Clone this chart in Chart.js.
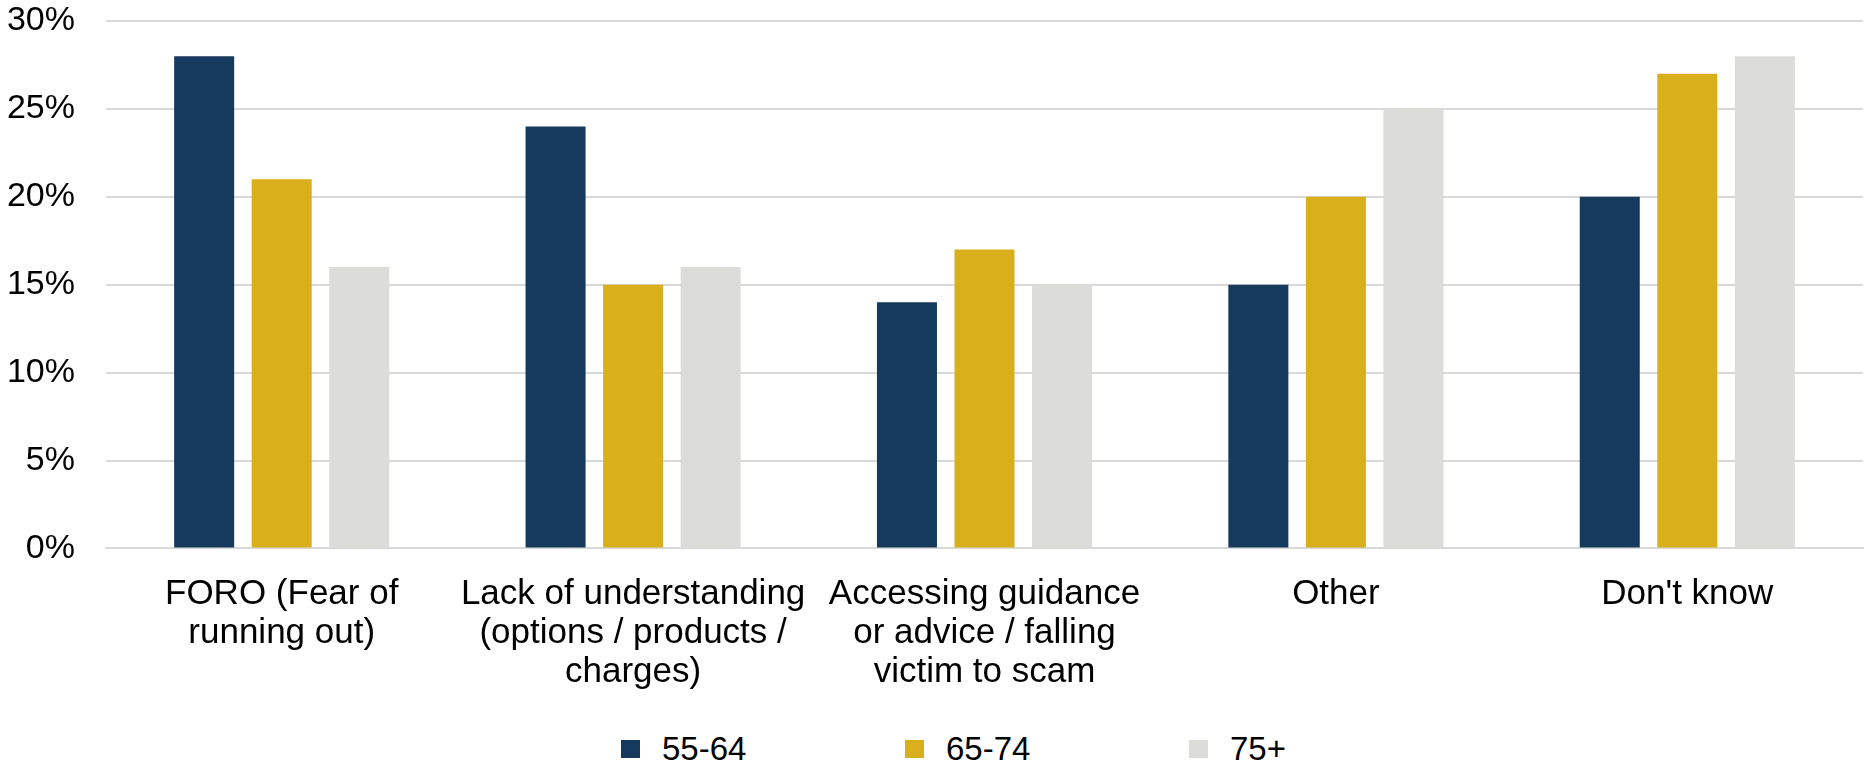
<!DOCTYPE html>
<html>
<head>
<meta charset="utf-8">
<script src="https://cdn.jsdelivr.net/npm/chart.js@4/dist/chart.umd.min.js"></script>
<style>
  html, body { margin: 0; padding: 0; background: #fff; }
  #wrap { position: relative; width: 1867px; height: 764px; }
  #chartBox { position: absolute; left: 0; top: 0; width: 1867px; height: 718px; }
  #legend {
    position: absolute; left: 621px; top: 729px; height: 40px;
    display: flex; align-items: center;
    font-family: 'Liberation Sans', Arial, sans-serif; font-size: 33px; color: #000;
  }
  #legend .item { display: flex; align-items: center; width: 284px; }
  #legend .box { width: 19px; height: 18px; margin-right: 22px; }
</style>
</head>
<body>
<div id="wrap">
  <div id="chartBox"><canvas id="myChart"></canvas></div>
  <div id="legend"></div>
</div>
<script>
const categories = [
    ['FORO (Fear of', 'running out)'],
    ['Lack of understanding', '(options / products /', 'charges)'],
    ['Accessing guidance', 'or advice / falling', 'victim to scam'],
    'Other',
    "Don't know"
]
const seriesNames = ['55-64', '65-74', '75+']
const age5564 = [28, 24, 14, 15, 20]
const age6574 = [21, 15, 17, 20, 27]
const age75 = [16, 16, 15, 25, 28]
const yTicks = [0, 5, 10, 15, 20, 25, 30]

const colors = ['#163a5e', '#daaf1c', '#dcdcd8']
const xFont = { family: "'Liberation Sans', Arial, sans-serif", size: 35, lineHeight: 1.12 }
const yFont = { family: "'Liberation Sans', Arial, sans-serif", size: 34 }

const ctx = document.getElementById('myChart');

const chart = new Chart(ctx, {
    type: 'bar',
    data: {
        labels: categories,
        datasets: [age5564, age6574, age75].map((d, i) => ({
            label: seriesNames[i],
            data: d,
            backgroundColor: colors[i],
            borderWidth: 0,
            categoryPercentage: 0.662,
            barPercentage: 0.774
        }))
    },
    options: {
        responsive: true,
        maintainAspectRatio: false,
        animation: false,
        layout: { padding: { left: 0, right: 4, top: 0, bottom: 0 } },
        plugins: {
            legend: { display: false },
            tooltip: { enabled: false }
        },
        scales: {
            x: {
                grid: { display: false, drawTicks: false },
                border: { display: true, color: '#d9d9d9', width: 2 },
                ticks: { font: xFont, color: '#000', padding: 26, maxRotation: 0, autoSkip: false },
                afterFit: s => { s.paddingLeft = 0; s.paddingRight = 0 }
            },
            y: {
                min: yTicks[0],
                max: yTicks[yTicks.length - 1],
                afterBuildTicks: axis => { axis.ticks = yTicks.map(v => ({ value: v })) },
                grid: { color: '#d9d9d9', lineWidth: 2, drawTicks: false },
                border: { display: false },
                ticks: { font: yFont, color: '#000', padding: 31, callback: v => v + '%' },
                afterFit: s => { s.width = 106; s.paddingTop = 21; s.paddingBottom = 0 }
            }
        }
    }
});

// html legend
const legend = document.getElementById('legend');
chart.data.datasets.forEach(ds => {
    const item = document.createElement('div');
    item.className = 'item';
    const box = document.createElement('span');
    box.className = 'box';
    box.style.background = ds.backgroundColor;
    const txt = document.createElement('span');
    txt.innerText = ds.label;
    item.appendChild(box);
    item.appendChild(txt);
    legend.appendChild(item);
});
</script>
</body>
</html>
